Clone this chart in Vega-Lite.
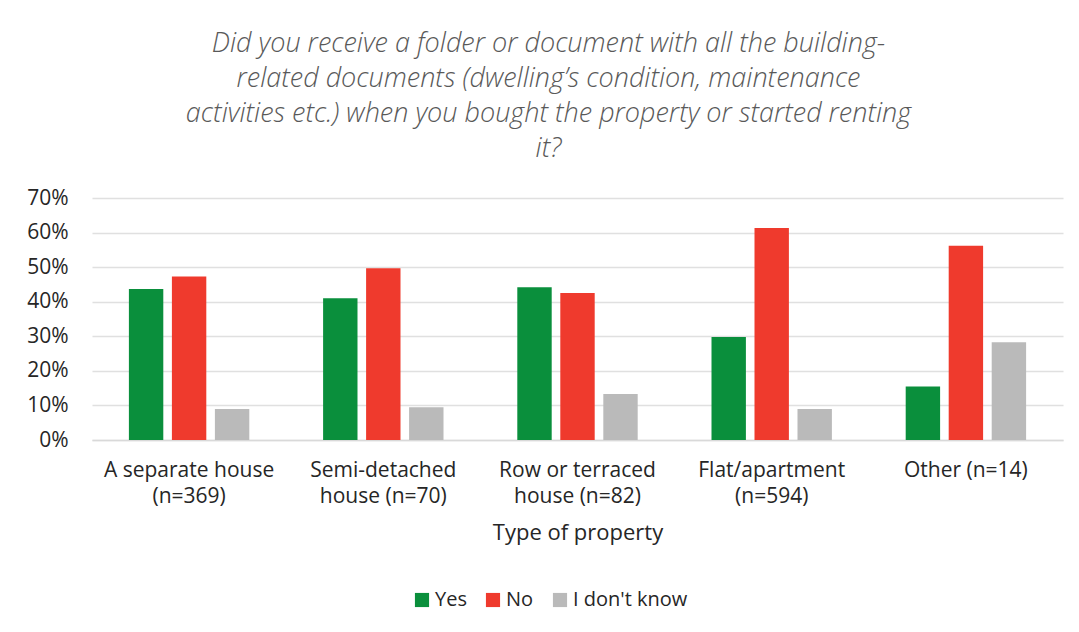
{
  "$schema": "https://vega.github.io/schema/vega-lite/v6.json",
  "autosize": {"type": "none"},
  "width": 971,
  "height": 242,
  "padding": {"left": 92, "top": 198, "right": 16, "bottom": 192},
  "background": "white",
  "title": {
    "text": ["Did you receive a folder or document with all the building-", "related documents (dwelling’s condition, maintenance", "activities etc.) when you bought the property or started renting", "it?"],
    "font": "Open Sans",
    "fontSize": 27,
    "fontStyle": "italic",
    "fontWeight": 300,
    "color": "#595959",
    "lineHeight": 35,
    "anchor": "middle",
    "dx": -29,
    "offset": 24
  },
  "data": {
    "values": [
      {"type": "A separate house (n=369)", "answer": "Yes", "value": 0.437},
      {"type": "A separate house (n=369)", "answer": "No", "value": 0.473},
      {"type": "A separate house (n=369)", "answer": "I don't know", "value": 0.09},
      {"type": "Semi-detached house (n=70)", "answer": "Yes", "value": 0.41},
      {"type": "Semi-detached house (n=70)", "answer": "No", "value": 0.497},
      {"type": "Semi-detached house (n=70)", "answer": "I don't know", "value": 0.095},
      {"type": "Row or terraced house (n=82)", "answer": "Yes", "value": 0.442},
      {"type": "Row or terraced house (n=82)", "answer": "No", "value": 0.425},
      {"type": "Row or terraced house (n=82)", "answer": "I don't know", "value": 0.133},
      {"type": "Flat/apartment (n=594)", "answer": "Yes", "value": 0.298},
      {"type": "Flat/apartment (n=594)", "answer": "No", "value": 0.613},
      {"type": "Flat/apartment (n=594)", "answer": "I don't know", "value": 0.09},
      {"type": "Other (n=14)", "answer": "Yes", "value": 0.155},
      {"type": "Other (n=14)", "answer": "No", "value": 0.562},
      {"type": "Other (n=14)", "answer": "I don't know", "value": 0.283}
    ]
  },
  "mark": {"type": "bar"},
  "encoding": {
    "x": {
      "field": "type",
      "type": "nominal",
      "sort": null,
      "scale": {"paddingInner": 0.38, "paddingOuter": 0.19},
      "axis": {
        "title": "Type of property",
        "titleFont": "Open Sans",
        "titleFontSize": 22,
        "titleFontWeight": "normal",
        "titleColor": "#262626",
        "titlePadding": 16,
        "labelFont": "Open Sans",
        "labelFontSize": 21,
        "labelColor": "#262626",
        "labelAngle": 0,
        "labelPadding": 19,
        "labelExpr": "datum.value == 'A separate house (n=369)' ? ['A separate house', '(n=369)'] : datum.value == 'Semi-detached house (n=70)' ? ['Semi-detached', 'house (n=70)'] : datum.value == 'Row or terraced house (n=82)' ? ['Row or terraced', 'house (n=82)'] : datum.value == 'Flat/apartment (n=594)' ? ['Flat/apartment', '(n=594)'] : datum.value",
        "labelLineHeight": 26,
        "ticks": false,
        "domain": true,
        "domainColor": "#d9d9d9",
        "domainWidth": 1.5
      }
    },
    "xOffset": {
      "field": "answer",
      "type": "nominal",
      "sort": ["Yes", "No", "I don't know"],
      "scale": {"paddingInner": 0.2, "paddingOuter": 0}
    },
    "y": {
      "field": "value",
      "type": "quantitative",
      "scale": {"domain": [0, 0.7]},
      "axis": {
        "title": null,
        "format": ".0%",
        "values": [0, 0.1, 0.2, 0.3, 0.4, 0.5, 0.6, 0.7],
        "labelFont": "Open Sans",
        "labelFontSize": 21,
        "labelColor": "#262626",
        "labelPadding": 24,
        "ticks": false,
        "domain": false,
        "gridColor": "#e0e0e0",
        "gridWidth": 1.5
      }
    },
    "color": {
      "field": "answer",
      "type": "nominal",
      "sort": ["Yes", "No", "I don't know"],
      "scale": {"domain": ["Yes", "No", "I don't know"], "range": ["#0a8f3c", "#ef3a2d", "#bababa"]},
      "legend": {
        "title": null,
        "orient": "none",
        "direction": "horizontal",
        "legendX": 320,
        "legendY": 392,
        "symbolType": "square",
        "symbolSize": 200,
        "symbolStrokeWidth": 0,
        "labelFont": "Open Sans",
        "labelFontSize": 20,
        "labelColor": "#262626",
        "labelOffset": 3,
        "columnPadding": 16
      }
    }
  },
  "config": {
    "view": {"stroke": null}
  }
}
